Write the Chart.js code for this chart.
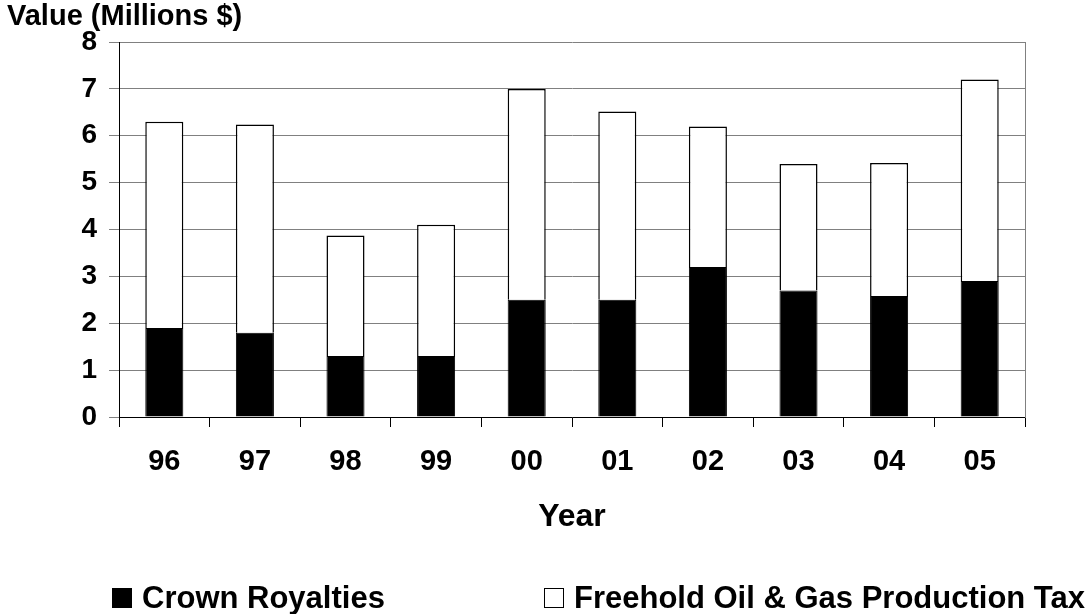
<!DOCTYPE html>
<html>
<head>
<meta charset="utf-8">
<script src="https://cdn.jsdelivr.net/npm/chart.js@4/dist/chart.umd.min.js"></script>
<style>
  html, body { margin: 0; padding: 0; background: #fff; }
  #wrap { position: relative; width: 1089px; height: 614px; overflow: hidden; }
  canvas { position: absolute; left: 0; top: 0; }
  .leg { position: absolute; top: 582px; height: 31px; line-height: 31px; display: flex; align-items: center;
         font: bold 31px "Liberation Sans", Arial, sans-serif; color: #000; white-space: nowrap; }
  .leg .box { display: inline-block; width: 20px; height: 20px; box-sizing: border-box; border: 1px solid #000; margin-right: 10px; }
</style>
</head>
<body>
<div id="wrap">
  <canvas id="c" width="1089" height="614"></canvas>
</div>
<script>
const years = ['96', '97', '98', '99', '00', '01', '02', '03', '04', '05'];
const crownRoyalties = [1.9, 1.8, 1.3, 1.3, 2.5, 2.5, 3.2, 2.7, 2.58, 2.9];
const freeholdTax = [4.4, 4.44, 2.57, 2.8, 4.5, 4.02, 3.0, 2.7, 2.84, 4.3];
const seriesLabels = ['Crown Royalties', 'Freehold Oil & Gas Production Tax'];
const seriesColors = ['#000000', '#ffffff'];
const yTickValues = [0, 1, 2, 3, 4, 5, 6, 7, 8];
const yTitle = 'Value (Millions $)';
const xTitle = 'Year';

const FONT = '"Liberation Sans", Arial, sans-serif';
const PAD_LEFT = 7;

const chart = new Chart(document.getElementById('c'), {
  type: 'bar',
  data: {
    labels: years,
    datasets: [
      { label: seriesLabels[0], data: crownRoyalties, backgroundColor: seriesColors[0], borderColor: '#000', borderWidth: 1 },
      { label: seriesLabels[1], data: freeholdTax, backgroundColor: seriesColors[1], borderColor: '#000', borderWidth: 1.5 }
    ]
  },
  options: {
    responsive: false,
    animation: false,
    devicePixelRatio: 1,
    layout: { padding: { left: PAD_LEFT, top: 0, right: 64, bottom: 0 } },
    datasets: { bar: { categoryPercentage: 1, barPercentage: 0.42 } },
    plugins: {
      legend: { display: false },
      tooltip: { enabled: false },
      title: {
        display: true, text: yTitle, align: 'start', color: '#000',
        font: { family: FONT, size: 29, weight: 'bold', lineHeight: 1.2 },
        padding: { top: 0, bottom: 42 - 34.8 }
      }
    },
    scales: {
      x: {
        stacked: true,
        border: { color: '#000', width: 1 },
        grid: { offset: true, drawOnChartArea: false, drawTicks: true, tickLength: 10, color: '#000' },
        ticks: { color: '#000', padding: 18, font: { family: FONT, size: 29, weight: 'bold' } },
        title: { display: true, text: xTitle, color: '#000', font: { family: FONT, size: 32, weight: 'bold' }, padding: { top: 0, bottom: 78 } },
        afterFit: (s) => { s.height = 614 - 417; }
      },
      y: {
        stacked: true,
        min: 0, max: 8,
        border: { color: '#000', width: 1 },
        grid: { color: '#808080', lineWidth: 1, tickLength: 10 },
        afterBuildTicks: (s) => { s.ticks = yTickValues.map(v => ({ value: v })); },
        ticks: { color: '#000', padding: 12, font: { family: FONT, size: 28, weight: 'bold' } },
        afterFit: (s) => { s.width = 119 - PAD_LEFT; }
      },
      yRight: {
        position: 'right',
        min: 0, max: 8,
        border: { color: '#808080', width: 1 },
        grid: { display: false, drawTicks: false },
        ticks: { display: false },
        afterFit: (s) => { s.width = 0; }
      }
    }
  }
});

// HTML legend built from the dataset labels/colors
const wrap = document.getElementById('wrap');
chart.data.datasets.forEach((ds, i) => {
  const item = document.createElement('div');
  item.className = 'leg';
  if (i === 0) item.style.left = '112px'; else item.style.right = '4px';
  const box = document.createElement('span');
  box.className = 'box';
  box.style.background = ds.backgroundColor;
  const txt = document.createElement('span');
  txt.textContent = ds.label;
  item.appendChild(box);
  item.appendChild(txt);
  wrap.appendChild(item);
});
</script>
</body>
</html>
